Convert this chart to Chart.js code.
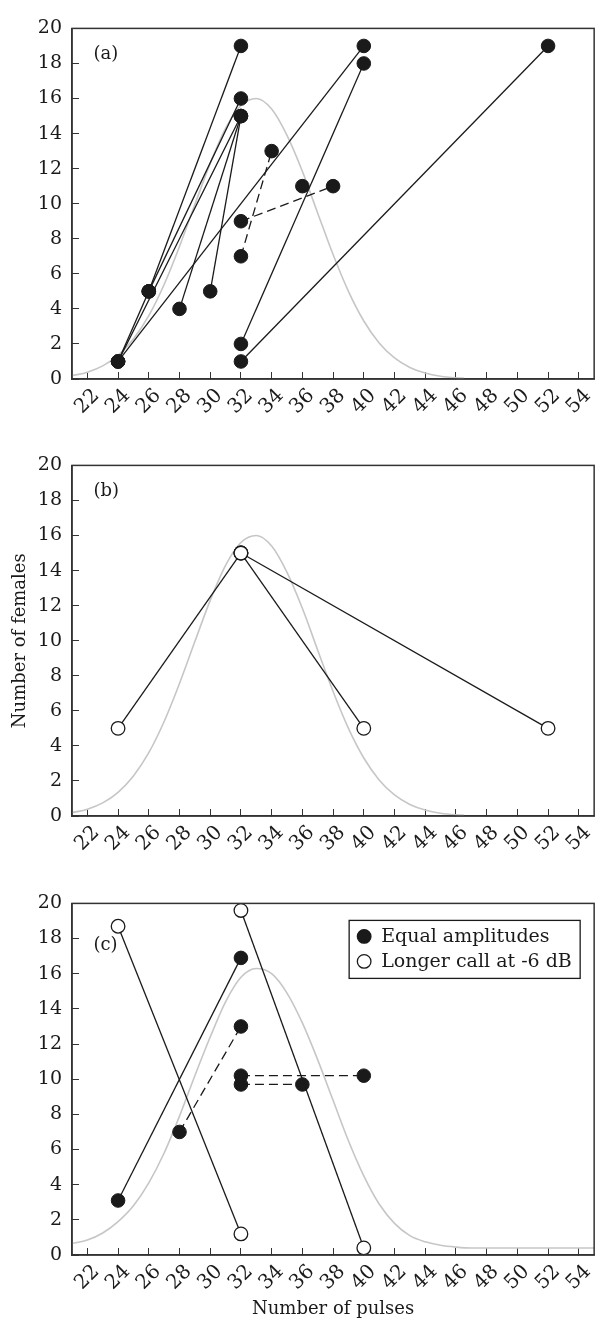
<!DOCTYPE html>
<html>
<head>
<meta charset="utf-8">
<script src="https://cdn.jsdelivr.net/npm/chart.js@4.4.1/dist/chart.umd.min.js"></script>
<style>
  html, body { margin: 0; padding: 0; background: #fff; }
  body { width: 608px; height: 1324px; position: relative; overflow: hidden; }
  canvas { position: absolute; left: 0; }
</style>
</head>
<body>
<canvas id="panelA" width="608" height="430" style="top:0px"></canvas>
<canvas id="panelB" width="608" height="430" style="top:437px"></canvas>
<canvas id="panelC" width="608" height="449" style="top:875px"></canvas>
<script>
// axis ticks
const xTickValues = [22, 24, 26, 28, 30, 32, 34, 36, 38, 40, 42, 44, 46, 48, 50, 52, 54];
const yTickValues = [0, 2, 4, 6, 8, 10, 12, 14, 16, 18, 20];

// grey background curve (distribution of male calls)
const curveX = [21, 22, 23, 24, 25, 26, 27, 28, 29, 30, 31, 32, 33, 34, 35, 36, 37, 38, 39, 40, 41, 42, 43, 44, 45, 46, 46.5];
const curveAB = [0.19, 0.39, 0.75, 1.35, 2.28, 3.61, 5.39, 7.56, 9.95, 12.3, 14.3, 15.6, 16.0, 15.4, 13.9, 11.85, 9.46, 7.1, 5.0, 3.31, 2.06, 1.2, 0.66, 0.34, 0.16, 0.07, 0.05];
const curveXC = [21, 22, 23, 24, 25, 26, 27, 28, 29, 30, 31, 32, 33, 34, 35, 36, 37, 38, 39, 40, 41, 42, 43, 44, 45, 46, 47, 48, 50, 52, 55];
const curveC = [0.65, 0.85, 1.25, 1.9, 2.8, 4.1, 5.8, 7.9, 10.2, 12.4, 14.4, 15.8, 16.3, 16.0, 14.9, 13.2, 11.1, 8.8, 6.5, 4.5, 2.9, 1.8, 1.1, 0.75, 0.55, 0.45, 0.4, 0.4, 0.4, 0.4, 0.4];

// (a) each link joins the two alternatives one group of females chose between
const aSolidPulses = [[24, 26], [24, 32], [24, 40], [26, 32], [26, 32], [28, 32], [30, 32], [32, 40], [32, 52]];
const aSolidFemales = [[1, 5], [1, 15], [1, 19], [5, 19], [5, 16], [4, 15], [5, 15], [2, 18], [1, 19]];
const aDashedPulses = [[32, 34], [32, 38]];
const aDashedFemales = [[7, 13], [9, 11]];
const aLonePulses = [[36]];
const aLoneFemales = [[11]];

// (b)
const bPulses = [[24, 32], [32, 40], [32, 52]];
const bFemales = [[5, 15], [15, 5], [15, 5]];

// (c)
const cOpenPulses = [[24, 32], [32, 40]];
const cOpenFemales = [[18.7, 1.2], [19.6, 0.4]];
const cFilledPulses = [[24, 32]];
const cFilledFemales = [[3.1, 16.9]];
const cDashedPulses = [[28, 32], [32, 40], [32, 36]];
const cDashedFemales = [[7, 13], [10.2, 10.2], [9.7, 9.7]];

const INK = '#1a1a1a';
const AXIS = '#333';
const FONT = "'DejaVu Serif', serif";

function links(pulses, females, dashed, open) {
    return pulses.map((px, i) => ({
        data: px.map((x, j) => ({ x: x, y: females[i][j] })),
        borderColor: INK,
        borderWidth: 1.3,
        borderDash: dashed ? [9, 5] : [],
        pointRadius: 6.8,
        pointBackgroundColor: open ? '#fff' : INK,
        pointBorderColor: INK,
        pointBorderWidth: open ? 1.3 : 1,
        order: 1
    }));
}

function curve(xs, ys) {
    return {
        data: xs.map((x, i) => ({ x: x, y: ys[i] })),
        borderColor: '#c6c6c6',
        borderWidth: 1.6,
        pointRadius: 0,
        cubicInterpolationMode: 'monotone',
        order: 5
    };
}

// box around the plot, panel letter and (c) legend
const framePlugin = {
    id: 'frame',
    afterDraw(chart, args, opts) {
        const { ctx, chartArea: a, scales } = chart;
        ctx.save();
        ctx.strokeStyle = AXIS;
        ctx.lineWidth = 1.5;
        ctx.strokeRect(a.left, a.top, a.right - a.left, a.bottom - a.top);
        ctx.fillStyle = INK;
        ctx.font = '18px ' + FONT;
        ctx.textBaseline = 'middle';
        ctx.fillText(opts.label, scales.x.getPixelForValue(22.4), scales.y.getPixelForValue(opts.labelY));
        if (opts.legend) {
            const left = a.right - 245, top = a.top + 17;
            ctx.font = '19px ' + FONT;
            ctx.lineWidth = 1.3;
            ctx.strokeStyle = INK;
            ctx.strokeRect(left, top, 231, 58);
            opts.legend.forEach((item, i) => {
                const cy = top + 16 + i * 25;
                ctx.beginPath();
                ctx.arc(left + 15, cy, 6.8, 0, Math.PI * 2);
                ctx.fillStyle = item.open ? '#fff' : INK;
                ctx.fill();
                ctx.stroke();
                ctx.fillStyle = INK;
                ctx.fillText(item.text, left + 32, cy + 1);
            });
        }
        ctx.restore();
    }
};

function makeOptions(frame, xAxisHeight, yTitle, xTitle) {
    return {
        responsive: false,
        animation: false,
        layout: { padding: { top: 15, right: 5, left: 0, bottom: 0 } },
        plugins: { legend: { display: false }, tooltip: { enabled: false }, frame: frame },
        scales: {
            x: {
                type: 'linear', min: 21, max: 55,
                afterBuildTicks: s => { s.ticks = xTickValues.map(v => ({ value: v })); },
                afterFit: s => { s.height = xAxisHeight; },
                grid: { drawOnChartArea: false, tickLength: -7, color: AXIS, lineWidth: 1 },
                border: { color: AXIS, width: 1.5 },
                ticks: { autoSkip: false, minRotation: 45, maxRotation: 45, padding: 12, labelOffset: 9, color: INK, font: { family: FONT, size: 20 } },
                title: { display: !!xTitle, text: xTitle || '', color: INK, font: { family: FONT, size: 18 }, padding: { top: 0, bottom: 4 } }
            },
            y: {
                type: 'linear', min: 0, max: 20,
                afterBuildTicks: s => { s.ticks = yTickValues.map(v => ({ value: v })); },
                afterFit: s => { s.width = 72; },
                grid: { drawOnChartArea: false, tickLength: -7, color: AXIS, lineWidth: 1 },
                border: { color: AXIS, width: 1.5 },
                ticks: { padding: 17, color: INK, font: { family: FONT, size: 19 } },
                title: { display: !!yTitle, text: yTitle || '', color: INK, font: { family: FONT, size: 18 }, padding: { top: 10, bottom: 0 } }
            }
        }
    };
}

function renderCharts() {
    new Chart(document.getElementById('panelA'), {
        type: 'line',
        data: {
            datasets: [].concat(
                links(aSolidPulses, aSolidFemales, false, false),
                links(aDashedPulses, aDashedFemales, true, false),
                links(aLonePulses, aLoneFemales, false, false),
                [curve(curveX, curveAB)]
            )
        },
        options: makeOptions({ label: '(a)', labelY: 18.5 }, 51),
        plugins: [framePlugin]
    });

    new Chart(document.getElementById('panelB'), {
        type: 'line',
        data: {
            datasets: [].concat(
                links(bPulses, bFemales, false, true),
                [curve(curveX, curveAB)]
            )
        },
        options: makeOptions({ label: '(b)', labelY: 18.5 }, 51, 'Number of females'),
        plugins: [framePlugin]
    });

    new Chart(document.getElementById('panelC'), {
        type: 'line',
        data: {
            datasets: [].concat(
                links(cOpenPulses, cOpenFemales, false, true),
                links(cFilledPulses, cFilledFemales, false, false),
                links(cDashedPulses, cDashedFemales, true, false),
                [curve(curveXC, curveC)]
            )
        },
        options: makeOptions({
            label: '(c)', labelY: 17.6,
            legend: [{ text: 'Equal amplitudes', open: false }, { text: 'Longer call at -6 dB', open: true }]
        }, 69, null, 'Number of pulses'),
        plugins: [framePlugin]
    });
}

document.addEventListener('DOMContentLoaded', renderCharts);
</script>
</body>
</html>
